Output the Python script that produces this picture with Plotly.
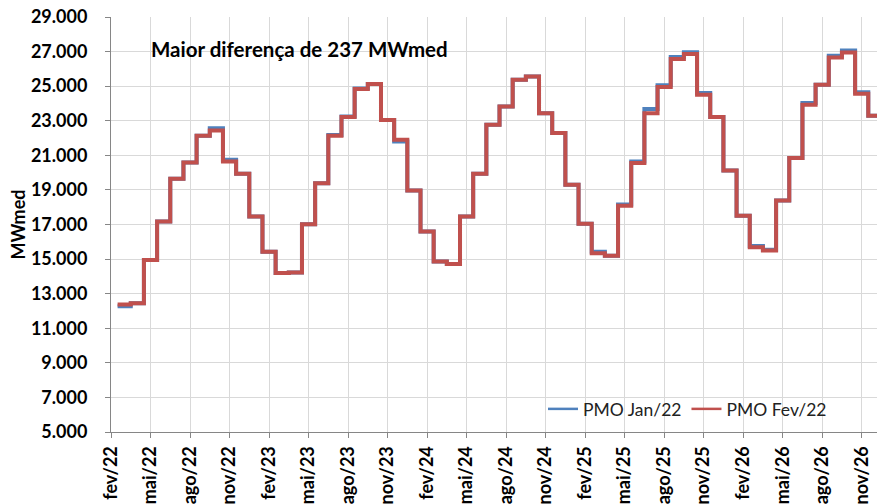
import plotly.graph_objects as go

# Months (first value = mar/22); x index 0 = fev/22
months = (["mar/22", "abr/22", "mai/22", "jun/22", "jul/22", "ago/22", "set/22", "out/22", "nov/22", "dez/22"]
          + [m + "/23" for m in ["jan", "fev", "mar", "abr", "mai", "jun", "jul", "ago", "set", "out", "nov", "dez"]]
          + [m + "/24" for m in ["jan", "fev", "mar", "abr", "mai", "jun", "jul", "ago", "set", "out", "nov", "dez"]]
          + [m + "/25" for m in ["jan", "fev", "mar", "abr", "mai", "jun", "jul", "ago", "set", "out", "nov", "dez"]]
          + [m + "/26" for m in ["jan", "fev", "mar", "abr", "mai", "jun", "jul", "ago", "set", "out", "nov", "dez"]])

pmo_fev22 = [12380, 12450, 14950, 17170, 19640, 20590, 22130, 22440, 20640, 19930,
             17460, 15430, 14190, 14220, 17020, 19390, 22130, 23210, 24830, 25120, 23050, 21900,
             18970, 16590, 14860, 14720, 17460, 19930, 22770, 23830, 25370, 25560, 23440, 22290,
             19300, 17040, 15340, 15190, 18080, 20550, 23440, 24950, 26570, 26860, 24500, 23210,
             20120, 17500, 15690, 15500, 18390, 20840, 23930, 25080, 26660, 26950, 24560, 23290]

pmo_jan22 = [12270, 12450, 14950, 17170, 19640, 20590, 22130, 22560, 20740, 19930,
             17460, 15430, 14190, 14220, 17020, 19390, 22180, 23250, 24860, 25120, 23050, 21800,
             18970, 16590, 14860, 14720, 17460, 19930, 22770, 23830, 25370, 25560, 23440, 22290,
             19300, 17040, 15420, 15190, 18160, 20650, 23677, 25050, 26680, 26960, 24600, 23210,
             20120, 17500, 15760, 15540, 18390, 20840, 24020, 25080, 26760, 27060, 24650, 23290]

tick_labels = ["fev/22", "mai/22", "ago/22", "nov/22", "fev/23", "mai/23", "ago/23", "nov/23",
               "fev/24", "mai/24", "ago/24", "nov/24", "fev/25", "mai/25", "ago/25", "nov/25",
               "fev/26", "mai/26", "ago/26", "nov/26"]

y_ticks = list(range(5000, 29001, 2000))
y_tick_labels = [f"{v:,}".replace(",", ".") for v in y_ticks]

series_names = ["PMO Jan/22", "PMO Fev/22"]
series_colors = ["#4F81BD", "#C0504D"]

# each month's value spans from half a month before to half a month after its tick
idx = list(range(1, len(months) + 1))
edges = [i - 0.5 for i in idx] + [idx[-1] + 0.5]

FONT = "Lato"
fig = go.Figure()
for name, vals, color in zip(series_names, [pmo_jan22, pmo_fev22], series_colors):
    fig.add_trace(go.Scatter(x=edges, y=vals + [vals[-1]], mode="lines", line_shape="hv",
                             name=name, showlegend=False, line=dict(color=color, width=4)))
# legend entries with the thinner sample line used in the reference legend
for name, color in zip(series_names, series_colors):
    fig.add_trace(go.Scatter(x=[None], y=[None], mode="lines", name=name,
                             line=dict(color=color, width=2.5)))

W, H = 877, 504
L, R, T, B = 111, 0, 17, 72
pw, ph = W - L - R, H - T - B
px_per_month = 13.17

def px_x(p):
    return (p - L) / pw

def px_y(p):
    return 1 - (p - T) / ph

fig.update_layout(
    width=W, height=H,
    margin=dict(l=L, r=R, t=T, b=B, pad=0, autoexpand=False),
    plot_bgcolor="white", paper_bgcolor="white",
    font=dict(family=FONT, color="black"),
    showlegend=True,
    legend=dict(orientation="h", x=px_x(543), xanchor="left", y=px_y(427), yanchor="bottom",
                bgcolor="rgba(0,0,0,0)", font=dict(family=FONT, size=17.5, color="#222"),
                itemwidth=30, tracegroupgap=0),
    xaxis=dict(range=[0, pw / px_per_month], tickmode="array",
               tickvals=[3 * i for i in range(len(tick_labels))], ticktext=tick_labels,
               tickangle=-90, tickfont=dict(family=FONT, size=18, color="black", weight="bold"),
               showgrid=True, gridcolor="#D9D9D9", gridwidth=1,
               showline=True, linecolor="#868686", linewidth=1,
               ticks="outside", ticklen=5, tickcolor="#868686", zeroline=False,
               ticklabelstandoff=1, automargin=False),
    yaxis=dict(range=[5000, 29000], tickmode="array", tickvals=y_ticks, ticktext=y_tick_labels,
               tickfont=dict(family=FONT, size=18, color="black", weight="bold"),
               showgrid=True, gridcolor="#D9D9D9", gridwidth=1,
               showline=True, linecolor="#868686", linewidth=1,
               ticks="outside", ticklen=5, tickcolor="#868686", zeroline=False,
               ticklabelstandoff=14, automargin=False,
               title=dict(text="MWmed", font=dict(family=FONT, size=18, color="black", weight="bold"),
                          standoff=0)),
)

# white boxes behind the note and the legend (hide gridlines there)
fig.add_shape(type="rect", xref="paper", yref="paper",
              x0=px_x(127), x1=px_x(467), y0=px_y(67), y1=px_y(20),
              fillcolor="white", line=dict(width=0), layer="between")
fig.add_shape(type="rect", xref="paper", yref="paper",
              x0=px_x(530), x1=px_x(867), y0=px_y(429), y1=px_y(395),
              fillcolor="white", line=dict(width=0), layer="between")
fig.add_annotation(text="Maior diferença de 237 MWmed", xref="paper", yref="paper",
                   x=px_x(149), y=px_y(49), xanchor="left", yanchor="middle", showarrow=False,
                   font=dict(family=FONT, size=20.5, color="black", weight="bold"))

fig.write_html("out.html", config={"displayModeBar": False},
               post_script="document.body.style.margin='0';document.body.style.overflow='hidden';")
